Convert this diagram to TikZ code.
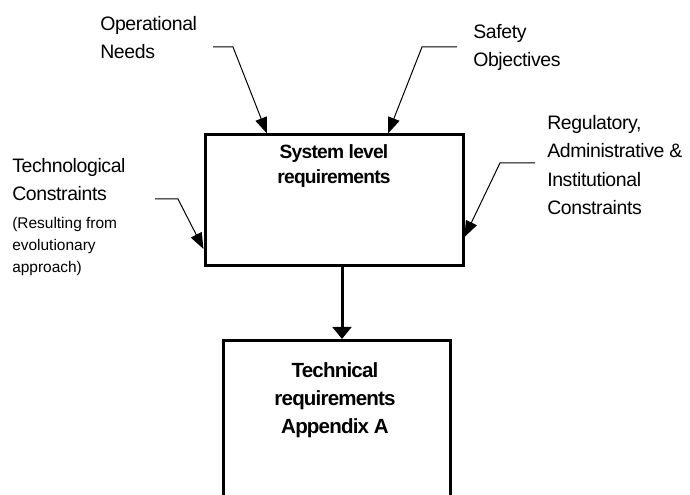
\documentclass[tikz,border=0pt]{standalone}
\usepackage{fontspec}
\setmainfont{Liberation Sans}
\newfontfamily\lblfont[LetterSpace=-2]{Liberation Sans}
\newfontfamily\boxfont[LetterSpace=-4]{Liberation Sans}
\usetikzlibrary{arrows.meta}
\begin{document}
\begin{tikzpicture}[x=0.75pt,y=-0.75pt,
  lbl/.style={anchor=north west,inner sep=0pt,align=left,font=\lblfont\fontsize{14.6}{21.4}\selectfont},
  sublbl/.style={anchor=north west,inner sep=0pt,align=left,font=\fontsize{11.6}{16.5}\selectfont},
  box/.style={draw,line width=2.25pt,inner sep=0pt},
  boxtxt/.style={anchor=north,inner sep=0pt,align=center,font=\boxfont\bfseries\fontsize{14.4}{18.75}\selectfont},
  feed/.style={line width=0.75pt,-{Triangle[length=12pt,width=9pt]}},
  flow/.style={line width=2.25pt,-{Triangle[length=9pt,width=14pt]}}]
\useasboundingbox (0,0) rectangle (690,495);
\clip (0,0) rectangle (690,495);
% boxes
\node[box,minimum width=193.5pt,minimum height=98.25pt] (sys) at (334,200.5) {};
\node[box,minimum width=170.25pt,minimum height=150pt,anchor=north] (tech) at (336.5,339) {};
\node[boxtxt] (systxt) at (334,144) {System level\\requirements};
\node[boxtxt,font=\boxfont\bfseries\fontsize{15.4}{21}\selectfont] (techtxt) at (335,362) {Technical\\requirements\\Appendix A};
% labels
\node[lbl] (opn) at (100,16) {Operational\\Needs};
\node[lbl] (saf) at (473,24) {Safety\\Objectives};
\node[lbl] (reg) at (547,115) {Regulatory,\\Administrative \&\\Institutional\\Constraints};
\node[lbl] (tec) at (12,158) {Technological\\Constraints};
\node[sublbl] (tecsub) at (12,217) {(Resulting from\\evolutionary\\approach)};
% connector coordinates
\coordinate (opnE) at (213,47); \coordinate (opnK) at (233,47); \coordinate (opnX) at (267,0);
\coordinate (safE) at (457,47); \coordinate (safK) at (422,47); \coordinate (safX) at (388,0);
\coordinate (regE) at (535,163); \coordinate (regK) at (500,163); \coordinate (regY) at (0,237);
\coordinate (tecE) at (155,199); \coordinate (tecK) at (178,199); \coordinate (tecY) at (0,249);
\coordinate (flowX) at (342,0);
% connectors
\draw[feed] (opnE) -- (opnK) -- (sys.north -| opnX);
\draw[feed] (safE) -- (safK) -- (sys.north -| safX);
\draw[feed] (regE) -- (regK) -- (sys.east |- regY);
\draw[feed] (tecE) -- (tecK) -- (sys.west |- tecY);
\draw[flow] (sys.south -| flowX) -- (tech.north -| flowX);
\end{tikzpicture}
\end{document}
